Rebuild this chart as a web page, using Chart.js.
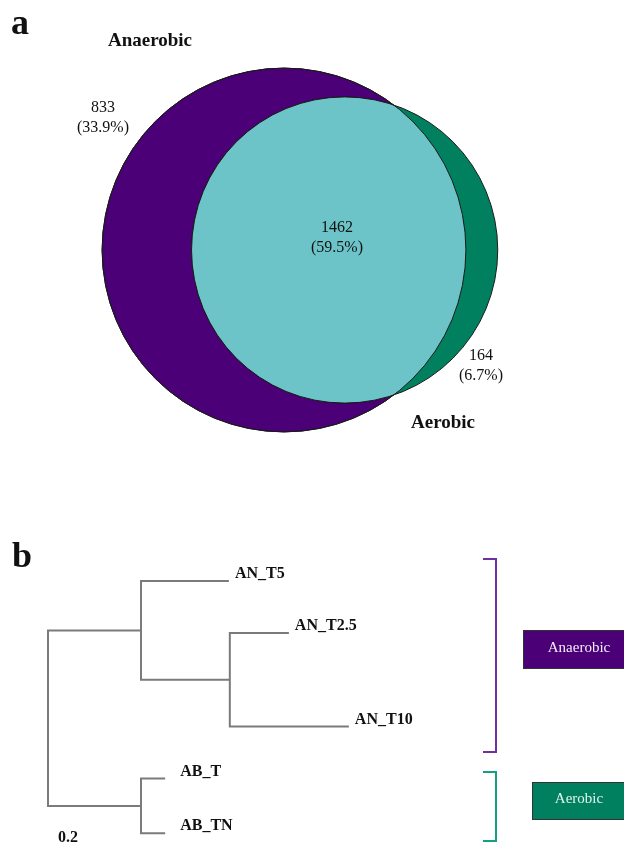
<!DOCTYPE html>
<html>
<head>
<meta charset="utf-8">
<title>Anaerobic vs aerobic</title>
<script src="https://cdn.jsdelivr.net/npm/chart.js@4.4.1/dist/chart.umd.min.js"></script>
<style>
  body { margin: 0; background: #fff; }
  .panel { position: absolute; left: 0; width: 624px; }
  #vennPanel { top: 0; height: 470px; }
  #treePanel { top: 470px; height: 391px; }
</style>
</head>
<body>
<div class="panel" id="vennPanel"><canvas id="vennChart" width="624" height="470"></canvas></div>
<div class="panel" id="treePanel"><canvas id="treeChart" width="624" height="391"></canvas></div>
<script>
// Venn data (panel a)
const vennSets = ["Anaerobic", "Aerobic"];
const vennCounts = [833, 164, 1462];           // anaerobic only, aerobic only, both
const vennPercents = ["33.9%", "6.7%", "59.5%"];

// Dendrogram data (panel b)
const leafNames = ["AN_T5", "AN_T2.5", "AN_T10", "AB_T", "AB_TN"];
const leafRows = [0, 1, 2.8, 3.8, 4.85];
const leafDepths = [0.389, 0.518, 0.647, 0.252, 0.252];
// [childA, childB, depth] - children 0..4 are leaves, 5+ are earlier merges
const merges = [[1, 2, 0.391], [0, 5, 0.2], [3, 4, 0.2], [6, 7, 0]];
const groupNames = ["Anaerobic", "Aerobic"];
const scaleLabel = "0.2";

const SERIF = '"Liberation Serif", "Times New Roman", serif';
const PURPLE = "#4b0078";
const GREEN = "#00805f";
const TEAL = "#6cc4c8";

// ---------- panel a: area-proportional venn ----------
const rA = Math.sqrt((vennCounts[0] + vennCounts[2]) / Math.PI);
const rB = Math.sqrt((vennCounts[1] + vennCounts[2]) / Math.PI);

function lensArea(d) {
    const c1 = Math.min(1, Math.max(-1, (d * d + rA * rA - rB * rB) / (2 * d * rA)));
    const c2 = Math.min(1, Math.max(-1, (d * d + rB * rB - rA * rA) / (2 * d * rB)));
    const k = (-d + rA + rB) * (d + rA - rB) * (d - rA + rB) * (d + rA + rB);
    return rA * rA * Math.acos(c1) + rB * rB * Math.acos(c2) - 0.5 * Math.sqrt(Math.max(0, k));
}
// find the centre distance that gives the shared area
let lo = Math.abs(rA - rB) + 1e-6, hi = rA + rB;
for (let i = 0; i < 80; i++) {
    const mid = (lo + hi) / 2;
    if (lensArea(mid) > vennCounts[2]) lo = mid; else hi = mid;
}
const centreDist = (lo + hi) / 2;

// scale is set so one data unit = pxPerUnit pixels on both axes, bubble r is in px
const pxPerUnit = 6.73;

const overlapClip = {
    id: "overlapClip",
    beforeDatasetDraw(chart, args) {
        if (args.index !== 2) return;
        const x = chart.scales.x, y = chart.scales.y;
        const cx = x.getPixelForValue(0), cy = y.getPixelForValue(0);
        const ctx = chart.ctx;
        ctx.save();
        ctx.beginPath();
        ctx.arc(cx, cy, x.getPixelForValue(rA) - cx, 0, Math.PI * 2);
        ctx.clip();
    },
    afterDatasetDraw(chart, args) {
        if (args.index === 2) chart.ctx.restore();
    }
};

const vennText = {
    id: "vennText",
    afterDraw(chart) {
        const ctx = chart.ctx;
        ctx.save();
        ctx.fillStyle = "#111";
        ctx.textBaseline = "alphabetic";
        ctx.textAlign = "left";
        ctx.font = "bold 36px " + SERIF;
        ctx.fillText("a", 11, 34);

        ctx.textAlign = "center";
        ctx.textBaseline = "middle";
        ctx.font = "bold 19px " + SERIF;
        ctx.fillText(vennSets[0], 150, 41);
        ctx.fillText(vennSets[1], 443, 423);

        ctx.font = "16px " + SERIF;
        const spots = [[103, 108], [481, 356], [337, 228]];
        vennCounts.forEach((n, i) => {
            ctx.fillText(String(n), spots[i][0], spots[i][1]);
            ctx.fillText("(" + vennPercents[i] + ")", spots[i][0], spots[i][1] + 20);
        });
        ctx.restore();
    }
};

const circle = (x, r, color, order) => ({
    data: [{ x: x, y: 0, r: r * pxPerUnit }],
    backgroundColor: color,
    hoverBackgroundColor: color,
    borderColor: "#1a1a1a",
    borderWidth: 1,
    clip: false,
    order: order
});

new Chart(document.getElementById("vennChart"), {
    type: "bubble",
    data: {
        datasets: [
            Object.assign(circle(0, rA, PURPLE, 4), { label: vennSets[0] }),
            Object.assign(circle(centreDist, rB, GREEN, 3), { label: vennSets[1] }),
            Object.assign(circle(centreDist, rB, TEAL, 2), { label: "Both" }),
            Object.assign(circle(0, rA, "rgba(0,0,0,0)", 1), { label: "edge" })
        ]
    },
    options: {
        responsive: false,
        animation: false,
        events: [],
        layout: { padding: 0, autoPadding: false },
        plugins: { legend: { display: false }, tooltip: { enabled: false } },
        scales: {
            x: { type: "linear", display: false, min: -284 / pxPerUnit, max: (624 - 284) / pxPerUnit },
            y: { type: "linear", display: false, min: -(470 - 250) / pxPerUnit, max: 250 / pxPerUnit }
        }
    },
    plugins: [overlapClip, vennText]
});

// ---------- panel b: dendrogram ----------
const nodeDepth = leafDepths.slice();
const nodeRow = leafRows.slice();
const treeSegments = [];
merges.forEach(([a, b, h]) => {
    treeSegments.push([
        { x: nodeDepth[a], y: nodeRow[a] },
        { x: h, y: nodeRow[a] },
        { x: h, y: nodeRow[b] },
        { x: nodeDepth[b], y: nodeRow[b] }
    ]);
    nodeDepth.push(h);
    nodeRow.push((nodeRow[a] + nodeRow[b]) / 2);
});

const pxPerDist = 465, rootPx = 48;
const pxPerRow = 52, firstRowPx = 111;

const treeText = {
    id: "treeText",
    afterDraw(chart) {
        const ctx = chart.ctx;
        const x = chart.scales.x, y = chart.scales.y;
        ctx.save();
        ctx.fillStyle = "#111";
        ctx.font = "bold 36px " + SERIF;
        ctx.textAlign = "left";
        ctx.textBaseline = "alphabetic";
        ctx.fillText("b", 12, 97);

        ctx.font = "bold 16px " + SERIF;
        ctx.textBaseline = "middle";
        leafNames.forEach((name, i) => {
            const gap = name.startsWith("AB") ? 15 : 6;
            ctx.fillText(name, x.getPixelForValue(leafDepths[i]) + gap, y.getPixelForValue(leafRows[i]) - 7);
        });
        ctx.fillText(scaleLabel, 58, 368);

        // group brackets
        ctx.lineWidth = 2;
        ctx.strokeStyle = "#7030a0";
        ctx.beginPath();
        ctx.moveTo(483, 89); ctx.lineTo(496, 89); ctx.lineTo(496, 282); ctx.lineTo(483, 282);
        ctx.stroke();
        ctx.strokeStyle = "#15a085";
        ctx.beginPath();
        ctx.moveTo(483, 302); ctx.lineTo(496, 302); ctx.lineTo(496, 371); ctx.lineTo(483, 371);
        ctx.stroke();

        // group boxes
        ctx.lineWidth = 1;
        ctx.strokeStyle = "#333";
        ctx.fillStyle = PURPLE;
        ctx.fillRect(523, 160, 110, 38);
        ctx.strokeRect(523.5, 160.5, 110, 38);
        ctx.fillStyle = GREEN;
        ctx.fillRect(532, 312, 110, 37);
        ctx.strokeRect(532.5, 312.5, 110, 37);

        ctx.font = "15px " + SERIF;
        ctx.textAlign = "center";
        ctx.fillStyle = "#f2eef8";
        ctx.fillText(groupNames[0], 579, 178);
        ctx.fillStyle = "#dff5ee";
        ctx.fillText(groupNames[1], 579, 329);
        ctx.restore();
    }
};

new Chart(document.getElementById("treeChart"), {
    type: "scatter",
    data: {
        datasets: treeSegments.map((seg, i) => ({
            label: "branch " + i,
            data: seg,
            showLine: true,
            borderColor: "#7b7b7b",
            borderWidth: 2,
            borderJoinStyle: "miter",
            pointRadius: 0,
            tension: 0
        }))
    },
    options: {
        responsive: false,
        animation: false,
        events: [],
        clip: false,
        layout: { padding: 0, autoPadding: false },
        plugins: { legend: { display: false }, tooltip: { enabled: false } },
        scales: {
            x: { type: "linear", display: false, min: -rootPx / pxPerDist, max: (624 - rootPx) / pxPerDist },
            y: { type: "linear", display: false, reverse: true, min: -firstRowPx / pxPerRow, max: (391 - firstRowPx) / pxPerRow }
        }
    },
    plugins: [treeText]
});
</script>
</body>
</html>
